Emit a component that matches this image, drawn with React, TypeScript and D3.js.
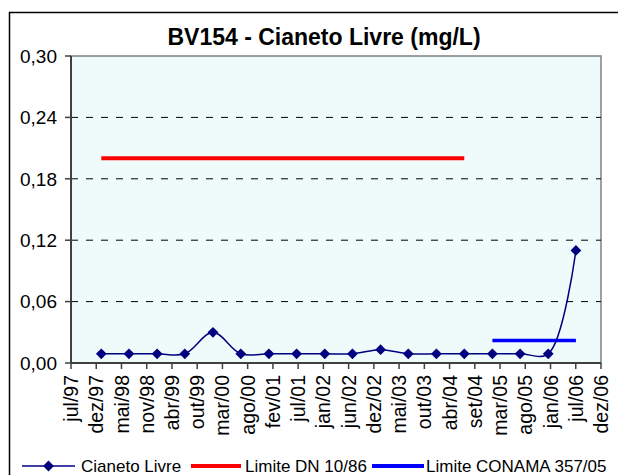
import { useEffect, useRef } from "react";
import * as d3 from "d3";

// sample dates (one every ~6 months) and the measured free cyanide
const sampleDates = [
  "1998-01-15", "1998-07-15", "1999-01-15", "1999-07-15", "2000-01-15", "2000-07-15",
  "2001-01-15", "2001-07-15", "2002-01-15", "2002-07-15", "2003-01-15", "2003-07-15",
  "2004-01-15", "2004-07-15", "2005-01-15", "2005-07-15", "2006-01-15", "2006-07-15",
];
const cianetoLivre = [
  0.009, 0.009, 0.009, 0.009, 0.03, 0.009, 0.009, 0.009, 0.009, 0.009, 0.013, 0.009,
  0.009, 0.009, 0.009, 0.009, 0.009, 0.11,
];
const limiteDN = [
  0.2, 0.2, 0.2, 0.2, 0.2, 0.2, 0.2, 0.2, 0.2, 0.2, 0.2, 0.2, 0.2, 0.2, null, null, null, null,
];
const limiteConama = [
  null, null, null, null, null, null, null, null, null, null, null, null, null, null,
  0.022, 0.022, 0.022, 0.022,
];

const xTickLabels = [
  "jul/97", "dez/97", "mai/98", "nov/98", "abr/99", "out/99", "mar/00", "ago/00",
  "fev/01", "jul/01", "jan/02", "jun/02", "dez/02", "mai/03", "out/03", "abr/04",
  "set/04", "mar/05", "ago/05", "jan/06", "jul/06", "dez/06",
];
const yTicks = [0, 0.06, 0.12, 0.18, 0.24, 0.3];

const axisStart = "1997-07-01";
const tickStepDays = 165;

const FONT = "'Liberation Sans', Arial, sans-serif";

export default function App() {
  const svgRef = useRef<SVGSVGElement | null>(null);

  useEffect(() => {
    if (!svgRef.current) return;
    const svg = d3.select(svgRef.current);
    svg.selectAll("*").remove();

    const width = 618;
    const height = 475;
    const plot = { left: 71, right: 601, top: 56, bottom: 363 };

    const start = new Date(axisStart + "T00:00:00Z");
    const tickDates = xTickLabels.map((_, i) => d3.utcDay.offset(start, i * tickStepDays));
    const dates = sampleDates.map((d) => new Date(d + "T00:00:00Z"));

    const x = d3
      .scaleUtc()
      .domain([tickDates[0], tickDates[tickDates.length - 1]])
      .range([plot.left, plot.right]);
    const y = d3.scaleLinear().domain([0, 0.3]).range([plot.bottom, plot.top]);

    svg.attr("viewBox", `0 0 ${width} ${height}`);

    // chart frame
    svg
      .append("rect")
      .attr("x", 9.5)
      .attr("y", 12.5)
      .attr("width", 660)
      .attr("height", 500)
      .attr("fill", "#fff")
      .attr("stroke", "#000")
      .attr("stroke-width", 1.5);

    svg
      .append("text")
      .attr("x", 324)
      .attr("y", 45)
      .attr("text-anchor", "middle")
      .attr("font-family", FONT)
      .attr("font-weight", "bold")
      .attr("font-size", 23)
      .text("BV154 - Cianeto Livre (mg/L)");

    // plot area
    svg
      .append("rect")
      .attr("x", plot.left)
      .attr("y", plot.top)
      .attr("width", plot.right - plot.left)
      .attr("height", plot.bottom - plot.top)
      .attr("fill", "#effbfb")
      .attr("stroke", "#808080")
      .attr("stroke-width", 1.5);

    // gridlines
    svg
      .append("g")
      .selectAll("line")
      .data(yTicks.filter((t) => t > 0 && t < 0.3))
      .join("line")
      .attr("x1", plot.left)
      .attr("x2", plot.right)
      .attr("y1", (d) => y(d))
      .attr("y2", (d) => y(d))
      .attr("stroke", "#000")
      .attr("stroke-width", 1)
      .attr("stroke-dasharray", "7,8");

    // y axis
    const yAxis = svg.append("g");
    yAxis
      .selectAll("line")
      .data(yTicks)
      .join("line")
      .attr("x1", plot.left - 6)
      .attr("x2", plot.left)
      .attr("y1", (d) => y(d))
      .attr("y2", (d) => y(d))
      .attr("stroke", "#404040")
      .attr("stroke-width", 1.5);
    yAxis
      .selectAll("text")
      .data(yTicks)
      .join("text")
      .attr("x", plot.left - 14)
      .attr("y", (d) => y(d))
      .attr("dy", "0.36em")
      .attr("text-anchor", "end")
      .attr("font-family", FONT)
      .attr("font-size", 19)
      .text((d) => d3.format(".2f")(d).replace(".", ","));
    yAxis
      .append("line")
      .attr("x1", plot.left)
      .attr("x2", plot.left)
      .attr("y1", plot.top)
      .attr("y2", plot.bottom)
      .attr("stroke", "#404040")
      .attr("stroke-width", 2);

    // x axis
    const xAxis = svg.append("g");
    xAxis
      .selectAll("line")
      .data(tickDates)
      .join("line")
      .attr("x1", (d) => x(d))
      .attr("x2", (d) => x(d))
      .attr("y1", plot.bottom)
      .attr("y2", plot.bottom + 6)
      .attr("stroke", "#404040")
      .attr("stroke-width", 1.5);
    xAxis
      .selectAll("text")
      .data(tickDates)
      .join("text")
      .attr("transform", (d) => `translate(${x(d)},${plot.bottom + 12}) rotate(-90)`)
      .attr("dy", "0.36em")
      .attr("text-anchor", "end")
      .attr("font-family", FONT)
      .attr("font-size", 19.5)
      .text((_, i) => xTickLabels[i]);
    xAxis
      .append("line")
      .attr("x1", plot.left)
      .attr("x2", plot.right)
      .attr("y1", plot.bottom)
      .attr("y2", plot.bottom)
      .attr("stroke", "#404040")
      .attr("stroke-width", 2);

    // limit lines
    const limitLine = d3
      .line<number | null>()
      .defined((d) => d !== null)
      .x((_, i) => x(dates[i]))
      .y((d) => y(d as number));

    svg
      .append("path")
      .attr("d", limitLine(limiteDN))
      .attr("fill", "none")
      .attr("stroke", "#ff0000")
      .attr("stroke-width", 4);
    svg
      .append("path")
      .attr("d", limitLine(limiteConama))
      .attr("fill", "none")
      .attr("stroke", "#0000ff")
      .attr("stroke-width", 3.5);

    // cyanide series
    const seriesLine = d3
      .line<number>()
      .x((_, i) => x(dates[i]))
      .y((d) => y(d))
      .curve(d3.curveCatmullRom.alpha(0.5));
    svg
      .append("path")
      .attr("d", seriesLine(cianetoLivre))
      .attr("fill", "none")
      .attr("stroke", "#000080")
      .attr("stroke-width", 1.5);

    const diamond = d3.symbol().type(d3.symbolDiamond2).size(74);
    svg
      .append("g")
      .selectAll("path")
      .data(cianetoLivre)
      .join("path")
      .attr("transform", (d, i) => `translate(${x(dates[i])},${y(d)})`)
      .attr("d", diamond)
      .attr("fill", "#000080");

    // legend
    const legendY = 466;
    const legend = svg.append("g").attr("font-family", FONT).attr("font-size", 17);
    const items = [
      { label: "Cianeto Livre", color: "#000080", width: 1.5, x0: 22, x1: 75, tx: 81, marker: true },
      { label: "Limite DN 10/86", color: "#ff0000", width: 4, x0: 191, x1: 241, tx: 245, marker: false },
      { label: "Limite CONAMA 357/05", color: "#0000ff", width: 4, x0: 372, x1: 424, tx: 426, marker: false },
    ];
    items.forEach((it) => {
      legend
        .append("line")
        .attr("x1", it.x0)
        .attr("x2", it.x1)
        .attr("y1", legendY)
        .attr("y2", legendY)
        .attr("stroke", it.color)
        .attr("stroke-width", it.width);
      if (it.marker) {
        legend
          .append("path")
          .attr("transform", `translate(${(it.x0 + it.x1) / 2},${legendY})`)
          .attr("d", diamond)
          .attr("fill", it.color);
      }
      legend
        .append("text")
        .attr("x", it.tx)
        .attr("y", legendY)
        .attr("dy", "0.36em")
        .text(it.label);
    });
  }, []);

  return (
    <svg
      ref={svgRef}
      width={618}
      height={475}
      style={{ position: "absolute", left: 0, top: 0, display: "block" }}
    />
  );
}
